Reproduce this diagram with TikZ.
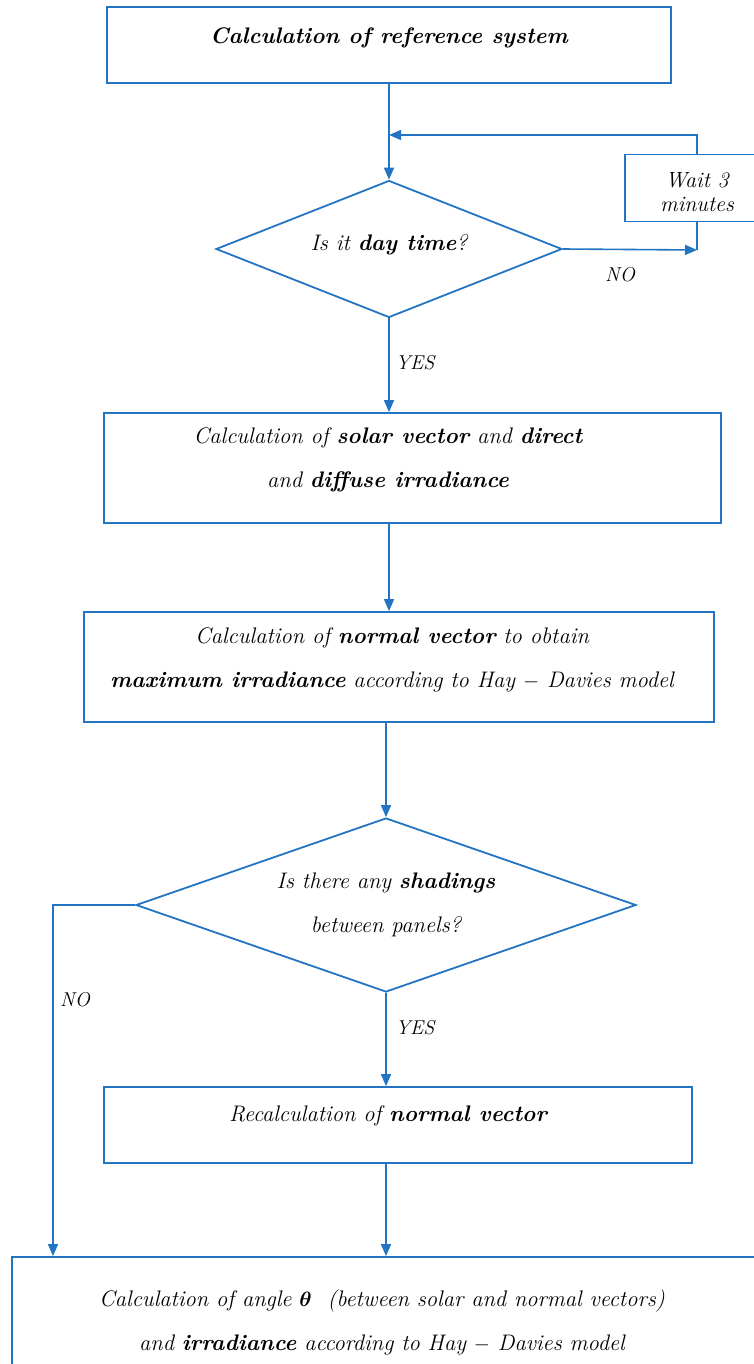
\documentclass[tikz,border=0pt]{standalone}
\usepackage{amsmath}
\usetikzlibrary{shapes.geometric,arrows.meta}
\definecolor{fblue}{RGB}{36,116,196}
\begin{document}
\begin{tikzpicture}[x=1pt,y=-1pt,
  shp/.style={draw=fblue, line width=1.8pt, inner sep=0pt, fill=white},
  dia/.style={shp, diamond},
  txt/.style={inner sep=0pt, align=center, font=\fontsize{22.5}{44}\selectfont\itshape},
  lbl/.style={inner sep=0pt, font=\fontsize{20}{22}\selectfont\itshape},
  arr/.style={draw=fblue, line width=1.6pt, -{Triangle[length=12pt,width=10pt]}},
  ln/.style={draw=fblue, line width=1.6pt}]
\useasboundingbox (0,0) rectangle (753,1364);
% boxes
\node[shp, minimum width=564pt, minimum height=76pt] (b1) at (389,45) {};
\node[txt] (t1) at (389,38) {\textbf{Calculation of reference system}};
\node[dia, minimum width=346pt, minimum height=137pt] (d1) at (389,249) {};
\node[txt] (td1) at (389,245) {Is it \textbf{day time}?};
\node[shp, minimum width=144pt, minimum height=67pt] (wait) at (697,188) {};
\node[txt, font=\fontsize{22}{24}\selectfont\itshape] (tw) at (697,192) {Wait 3\\minutes};
\node[shp, minimum width=617pt, minimum height=110pt] (b2) at (412.5,468) {};
\node[txt] (t2) at (388,460) {Calculation of \textbf{solar vector} and \textbf{direct}\\and \textbf{diffuse irradiance}};
\node[shp, minimum width=630pt, minimum height=110pt] (b3) at (399,667) {};
\node[txt] (t3) at (392,660) {Calculation of \textbf{normal vector} to obtain\\\textbf{maximum irradiance} according to Hay $-$ Davies model};
\node[dia, minimum width=500pt, minimum height=174pt] (d2) at (386,905) {};
\node[txt] (td2) at (386,905) {Is there any \textbf{shadings}\\between panels?};
\node[shp, minimum width=588pt, minimum height=76pt] (b4) at (398,1125) {};
\node[txt] (t4) at (388,1116) {Recalculation of \textbf{normal vector}};
\node[shp, minimum width=756pt, minimum height=116pt] (b5) at (390,1315) {};
\node[txt] (t5) at (382,1322) {Calculation of angle $\boldsymbol{\theta}$\ \ (between solar and normal vectors)\\and \textbf{irradiance} according to Hay $-$ Davies model};
% coordinates
\coordinate (j1) at (389,135);
\coordinate (n1) at (697,250);
\coordinate (c2) at (53,905);
% connectors
\draw[arr] (b1.south) -- (d1.north);
\draw[arr] (wait.north) |- (j1);
\draw[arr] (d1.east) -- (n1);
\draw[ln] (wait.south) -- (n1);
\draw[arr] (d1.south) -- (d1.south |- b2.north);
\draw[arr] (d1.south |- b2.south) -- (d1.south |- b3.north);
\draw[arr] (d2.north |- b3.south) -- (d2.north);
\draw[arr] (d2.west) -- (c2) -- (c2 |- b5.north);
\draw[arr] (d2.south) -- (d2.south |- b4.north);
\draw[arr] (d2.south |- b4.south) -- (d2.south |- b5.north);
% labels
\node[lbl] (no1) at (620,275) {NO};
\node[lbl] (yes1) at (415,363) {YES};
\node[lbl] (no2) at (75,1000) {NO};
\node[lbl] (yes2) at (415,1028) {YES};
\end{tikzpicture}
\end{document}
